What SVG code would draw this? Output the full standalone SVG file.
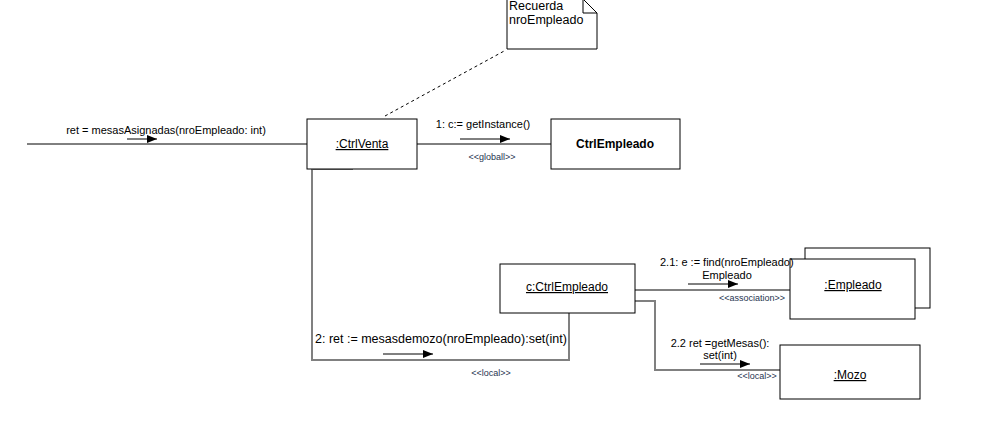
<svg xmlns="http://www.w3.org/2000/svg" width="997" height="433" viewBox="0 0 997 433">
<defs>
<marker id="ah" viewBox="0 0 10 10" refX="10" refY="5" markerWidth="10" markerHeight="10" markerUnits="userSpaceOnUse" orient="auto"><path d="M0,1 L10,5 L0,9 Z" fill="#000"/></marker>
</defs>
<style>
text{font-family:"Liberation Sans",Arial,sans-serif;font-size:12px;fill:#000}
.m{font-size:11px}
.l{font-size:12.5px}
.st{font-size:9px;fill:#1f3550}
.b{font-weight:bold}
.box{fill:#fff;stroke:#000;stroke-width:1}
.c{fill:none;stroke:#000;stroke-width:1}
.g{fill:none;stroke:#808080;stroke-width:2}
.msg{fill:none;stroke:#000;stroke-width:1;marker-end:url(#ah)}
.u{text-decoration:underline}
</style>
<rect width="997" height="433" fill="#fff"/>
<g id="connectors">
<line class="c" x1="385" y1="116" x2="506" y2="50" stroke-dasharray="3,3"/>
<line class="c" x1="27" y1="144" x2="307" y2="144"/>
<line class="c" x1="417" y1="144" x2="551" y2="144"/>
<polyline class="g" points="353,169 312,169 312,360 569,360 569,313"/>
<line class="c" x1="635" y1="290" x2="790" y2="290"/>
<polyline class="g" points="635,301 655,301 655,370 780,370"/>
</g>
<g id="note">
<path class="box" d="M507,-1 L583,-1 L597,13 L597,49 L507,49 Z"/>
<path class="c" d="M583,-1 L583,13 L597,13"/>
<text class="l" x="509" y="10">Recuerda</text>
<text class="l" x="509" y="24">nroEmpleado</text>
</g>
<g id="ctrlventa">
<rect class="box" x="307" y="119" width="110" height="50"/>
<text class="u" x="362" y="148" text-anchor="middle">:CtrlVenta</text>
</g>
<g id="ctrlempleado">
<rect class="box" x="551" y="119" width="129" height="50"/>
<text class="b" x="615" y="148" text-anchor="middle">CtrlEmpleado</text>
</g>
<g id="c-ctrlempleado">
<rect class="box" x="500" y="264" width="135" height="49"/>
<text class="u" x="567" y="291" text-anchor="middle">c:CtrlEmpleado</text>
</g>
<g id="empleado">
<rect class="box" x="805" y="248" width="125" height="60"/>
<rect class="box" x="790" y="259" width="125" height="60"/>
<text class="u" x="853" y="289" text-anchor="middle">:Empleado</text>
</g>
<g id="mozo">
<rect class="box" x="780" y="345" width="140" height="54"/>
<text class="u" x="850" y="379" text-anchor="middle">:Mozo</text>
</g>
<g id="labels">
<text class="m" x="166" y="134" text-anchor="middle">ret = mesasAsignadas(nroEmpleado: int)</text>
<line class="msg" x1="127" y1="139" x2="157" y2="139"/>
<text class="m" x="483" y="128" text-anchor="middle">1: c:= getInstance()</text>
<line class="msg" x1="460" y1="139" x2="510" y2="139"/>
<text class="st" x="492" y="160" text-anchor="middle">&lt;&lt;globall&gt;&gt;</text>
<text class="l" x="315" y="343">2: ret := mesasdemozo(nroEmpleado):set(int)</text>
<line class="msg" x1="383" y1="354" x2="433" y2="354"/>
<text class="st" x="491" y="376" text-anchor="middle">&lt;&lt;local&gt;&gt;</text>
<text class="m" x="660" y="266">2.1: e := find(nroEmpleado)</text>
<text class="m" x="727" y="279" text-anchor="middle">Empleado</text>
<line class="msg" x1="688" y1="284" x2="738" y2="284"/>
<text class="st" x="752" y="301" text-anchor="middle">&lt;&lt;association&gt;&gt;</text>
<text class="m" x="720" y="347" text-anchor="middle">2.2 ret =getMesas():</text>
<text class="m" x="720" y="359" text-anchor="middle">set(int)</text>
<line class="msg" x1="700" y1="364" x2="750" y2="364"/>
<text class="st" x="757" y="379" text-anchor="middle">&lt;&lt;local&gt;&gt;</text>
</g>
</svg>
